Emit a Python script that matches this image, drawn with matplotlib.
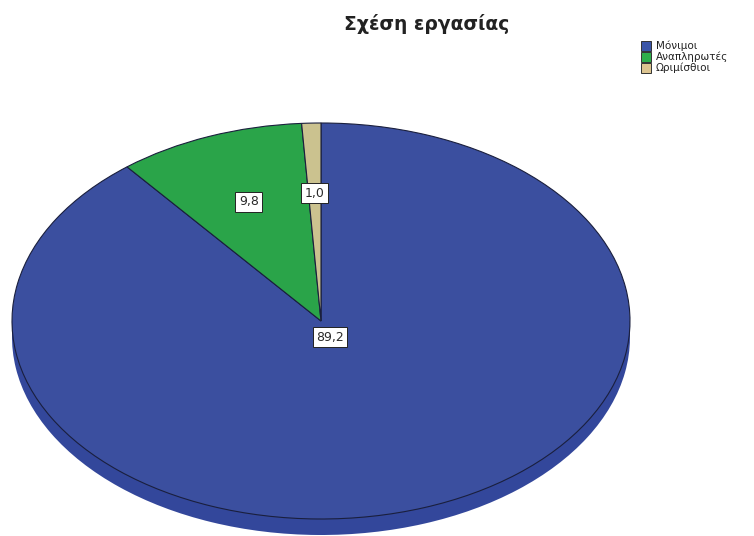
"""
Tilted pie chart of employment relationship shares (SPSS style).
"""
import matplotlib
matplotlib.use("Agg")
import matplotlib.pyplot as plt
import numpy as np
from matplotlib.patches import Rectangle

# data
categories = ["Μόνιμοι", "Αναπληρωτές", "Ωριμίσθιοι"]
percentages = [89.2, 9.8, 1.0]
title = "Σχέση εργασίας"

top_colors = ["#3b4f9f", "#2aa449", "#cbc28f"]
side_colors = ["#33479b", "#23903f", "#b3ab7c"]
legend_colors = ["#3b55a8", "#2eae4b", "#dcc490"]

W, H = 754, 536
cx, cy, rx, ry, depth = 321, 321, 309, 198, 16


def px_rect(x0, y0, w, h):
    """Figure-fraction rectangle from pixel box (origin top-left)."""
    return [x0 / W, 1 - (y0 + h) / H, w / W, h / H]


def draw_pie(ax, colors, edge, lw):
    wedges, _ = ax.pie(percentages, colors=colors, startangle=90,
                       counterclock=False,
                       wedgeprops=dict(edgecolor=edge, linewidth=lw))
    ax.set_xlim(-1, 1)
    ax.set_ylim(-1, 1)
    ax.set_aspect("auto")
    ax.axis("off")
    return wedges


fig = plt.figure(figsize=(W / 100, H / 100), dpi=100)

# extruded side: lower copy of the pie plus a band joining the two faces
ax_side = fig.add_axes(px_rect(cx - rx, cy - ry + depth, 2 * rx, 2 * ry))
draw_pie(ax_side, side_colors, "none", 0)
ax_side.add_patch(Rectangle((-1, 0), 2, depth / ry, facecolor=side_colors[0],
                            edgecolor="none", zorder=0.5))
for w in ax_side.patches:
    w.set_clip_on(False)

# top face
ax_top = fig.add_axes(px_rect(cx - rx, cy - ry, 2 * rx, 2 * ry))
wedges = draw_pie(ax_top, top_colors, "#1a1f3d", 0.8)

# value labels
box = dict(boxstyle="square,pad=0.28", facecolor="white",
           edgecolor="#222222", linewidth=0.7)
biggest = int(np.argmax(percentages))
for i, (w, val) in enumerate(zip(wedges, percentages)):
    label = f"{val:.1f}".replace(".", ",")
    if i == biggest:
        x, y = 9 / rx, -16 / ry
    else:
        mid = np.deg2rad((w.theta1 + w.theta2) / 2)
        x, y = 0.645 * np.cos(mid), 0.645 * np.sin(mid)
    ax_top.text(x, y, label, ha="center", va="center", fontsize=9,
                color="#2a2a2a", bbox=box, zorder=5)

# title and legend in pixel coordinates
ax_ov = fig.add_axes([0, 0, 1, 1], facecolor="none")
ax_ov.set_xlim(0, W)
ax_ov.set_ylim(H, 0)
ax_ov.axis("off")

ax_ov.text(427, 24, title, ha="center", va="center", fontsize=13.5,
           fontweight="bold", color="#222222")

for i, (name, col) in enumerate(zip(categories, legend_colors)):
    y0 = 41 + i * 11
    ax_ov.add_patch(Rectangle((641, y0), 10, 9.5, facecolor=col,
                              edgecolor="#333333", linewidth=0.7))
    ax_ov.text(656, y0 + 5, name, ha="left", va="center", fontsize=7.5,
               color="#222222")

fig.savefig("out.png", dpi=100)
plt.close(fig)
